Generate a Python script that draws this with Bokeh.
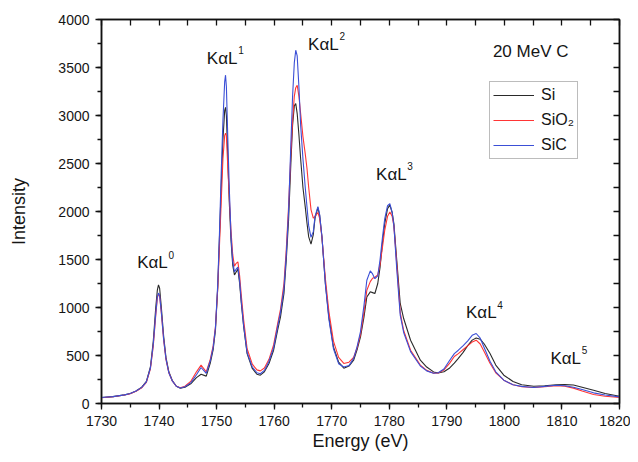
from bokeh.plotting import figure
from bokeh.models import Range1d, LinearAxis, SingleIntervalTicker, FixedTicker, Legend, LegendItem
from bokeh.core.properties import value
from bokeh.embed import file_html
from bokeh.resources import INLINE

energy = [1730, 1732, 1734, 1735, 1736, 1737, 1737.8, 1738.5, 1739.0, 1739.4, 1739.7, 1739.9, 1740.1,
          1740.4, 1740.8, 1741.2, 1741.7, 1742.3, 1743.0, 1743.7, 1744.5, 1745.5, 1746.5, 1747.3, 1748.2,
          1748.9, 1749.4, 1749.8, 1750.2, 1750.5, 1750.8, 1751.1, 1751.4, 1751.55, 1751.7, 1751.95, 1752.2,
          1752.5, 1752.8, 1753.1, 1753.4, 1753.7, 1754.0, 1754.3, 1754.7, 1755.3, 1756.2, 1757.0, 1757.6,
          1758.3, 1759.1, 1759.9, 1760.6, 1761.1, 1761.7, 1762.1, 1762.5, 1762.9, 1763.2, 1763.5, 1763.75,
          1764.0, 1764.3, 1764.6, 1765.0, 1765.4, 1765.7, 1766.0, 1766.4, 1766.8, 1767.1, 1767.6, 1767.9,
          1768.3, 1768.9, 1769.5, 1770.3, 1771.2, 1772.1, 1773.0, 1773.8, 1774.4, 1775.0, 1775.6, 1776.1,
          1776.7, 1777.1, 1777.5, 1778.0, 1778.4, 1778.8, 1779.2, 1779.7, 1780.1, 1780.5, 1780.8, 1781.3,
          1781.9, 1782.5, 1783.7, 1785.4, 1786.5, 1787.7, 1788.5, 1789.5, 1790.5, 1791.3, 1792.0, 1792.8,
          1793.6, 1794.4, 1795.1, 1795.8, 1796.5, 1797.5, 1798.5, 1799.9, 1801.5, 1803.0, 1805.1, 1807.0,
          1809.0, 1810.5, 1812.0, 1813.5, 1815.5, 1817.5, 1820]

si = [62, 72, 90, 104, 130, 170, 230, 380, 650, 980, 1180, 1235, 1200,
      1000, 700, 480, 330, 240, 180, 160, 170, 205, 270, 305, 285,
      420, 560, 763, 1215, 1735, 2250, 2750, 3050, 3085, 3000, 2550, 2100,
      1700, 1440, 1340, 1370, 1400, 1250, 1040, 800, 520, 365, 305, 295,
      330, 417, 555, 763, 902, 1146, 1493, 1910, 2500, 2900, 3100, 3125,
      3020, 2800, 2550, 2250, 2048, 1880, 1735, 1660, 1760, 1930, 2040, 1960,
      1735, 1250, 902, 590, 430, 368, 390, 451, 560, 694, 900, 1110,
      1163, 1155, 1146, 1250, 1420, 1667, 1870, 2030, 2066, 1990, 1875, 1493,
      1042, 885, 659, 451, 380, 329, 318, 330, 370, 420, 470, 530,
      600, 660, 683, 670, 620, 520, 400, 295, 230, 195, 180, 185,
      195, 197, 192, 170, 138, 105, 76]

sio2 = [60, 70, 88, 102, 128, 165, 220, 360, 600, 900, 1100, 1140, 1120,
        940, 660, 460, 320, 235, 180, 165, 180, 230, 330, 400, 330,
        460, 600, 800, 1200, 1650, 2100, 2550, 2790, 2815, 2790, 2450, 2150,
        1800, 1550, 1430, 1460, 1475, 1330, 1120, 870, 570, 410, 350, 340,
        370, 460, 610, 830, 980, 1250, 1600, 2050, 2600, 2950, 3200, 3290,
        3315, 3200, 3020, 2780, 2600, 2450, 2250, 2020, 1930, 1950, 1990, 1930,
        1730, 1300, 960, 650, 480, 417, 430, 480, 580, 720, 950, 1180,
        1270, 1305, 1315, 1340, 1450, 1620, 1800, 1950, 1996, 1950, 1850, 1450,
        950, 760, 555, 400, 345, 315, 318, 350, 420, 490, 520, 560,
        600, 640, 660, 620, 540, 420, 320, 243, 195, 175, 166, 175,
        185, 180, 160, 130, 94, 75, 62]

sic = [62, 72, 90, 104, 130, 168, 225, 370, 620, 920, 1110, 1150, 1125,
       950, 670, 465, 320, 235, 180, 162, 175, 215, 300, 375, 315,
       445, 585, 790, 1250, 1780, 2400, 2950, 3350, 3420, 3300, 2750, 2250,
       1750, 1480, 1370, 1400, 1420, 1280, 1060, 810, 530, 380, 320, 310,
       345, 440, 580, 800, 950, 1200, 1550, 2000, 2700, 3200, 3550, 3680,
       3620, 3300, 2900, 2550, 2250, 2050, 1850, 1730, 1790, 1950, 2050, 1970,
       1740, 1240, 880, 570, 415, 381, 395, 470, 590, 750, 1020, 1284,
       1381, 1350, 1300, 1330, 1500, 1720, 1920, 2060, 2083, 1990, 1850, 1400,
       920, 740, 540, 390, 340, 315, 320, 360, 450, 520, 555, 600,
       650, 710, 729, 680, 580, 440, 330, 243, 195, 178, 166, 178,
       190, 185, 170, 145, 111, 88, 69]

series_names = ["Si", "SiO\u2082", "SiC"]
series_colors = ["#2a2a2a", "#ff3535", "#3b4fd6"]

peak_labels = ["K\u03b1L", "K\u03b1L", "K\u03b1L", "K\u03b1L", "K\u03b1L", "K\u03b1L"]
peak_sups = ["0", "1", "2", "3", "4", "5"]
peak_x = [1738.86, 1750.96, 1768.55, 1780.36, 1795.99, 1810.66]
peak_y = [1467, 3597, 3743, 2389, 946, 472]

title_text = ["20 MeV C"]
title_x = [1804.57]
title_y = [3670]

x_minor = list(range(1730, 1821, 5))
y_minor = list(range(0, 4001, 250))

FONT = "Liberation Sans"
TXT = "#151515"

p = figure(width=630, height=455, output_backend="svg", toolbar_location=None,
           x_range=Range1d(1730, 1820), y_range=Range1d(0, 4000),
           min_border_left=101, min_border_right=11, min_border_top=19, min_border_bottom=52)
p.background_fill_color = "white"
p.border_fill_color = "white"
p.outline_line_color = "#111111"
p.outline_line_width = 1.5
p.xgrid.visible = False
p.ygrid.visible = False

xa = p.xaxis[0]
xa.ticker = SingleIntervalTicker(interval=10, num_minor_ticks=2)
xa.axis_label = "Energy (eV)"
ya = p.yaxis[0]
ya.ticker = SingleIntervalTicker(interval=500, num_minor_ticks=2)
ya.axis_label = "Intensity"
for ax in (xa, ya):
    ax.axis_line_color = "#111111"
    ax.axis_line_width = 1.5
    ax.major_tick_line_color = "#111111"
    ax.minor_tick_line_color = "#111111"
    ax.major_tick_line_width = 1.3
    ax.minor_tick_line_width = 1.3
    ax.major_tick_in = 0
    ax.major_tick_out = 6
    ax.minor_tick_in = 0
    ax.minor_tick_out = 4
    ax.major_label_text_font = FONT
    ax.major_label_text_font_size = "14px"
    ax.major_label_text_color = TXT
    ax.axis_label_text_font = FONT
    ax.axis_label_text_font_size = "18px"
    ax.axis_label_text_font_style = "normal"
    ax.axis_label_text_color = TXT
    ax.major_label_standoff = 6
xa.axis_label_standoff = 2
ya.axis_label_standoff = 26

# mirror axes: ticks only, no labels
top = LinearAxis(ticker=FixedTicker(ticks=[], minor_ticks=x_minor))
right = LinearAxis(ticker=FixedTicker(ticks=[], minor_ticks=y_minor))
for ax in (top, right):
    ax.axis_line_color = "#111111"
    ax.axis_line_width = 1.5
    ax.minor_tick_line_color = "#111111"
    ax.minor_tick_line_width = 1.3
    ax.minor_tick_in = 6
    ax.minor_tick_out = 0
    ax.major_tick_in = 0
    ax.major_tick_out = 0
    ax.major_label_standoff = 0
p.add_layout(top, "above")
p.add_layout(right, "right")

renderers = []
for ys, col in zip([si, sio2, sic], series_colors):
    r = p.line(energy, ys, line_color=col, line_width=1.1)
    renderers.append(r)

legend = Legend(items=[LegendItem(label=n, renderers=[r]) for n, r in zip(series_names, renderers)],
                location=(388, 244), orientation="vertical")
legend.border_line_color = "#7a7a7a"
legend.border_line_width = 1
legend.background_fill_color = "white"
legend.background_fill_alpha = 1
legend.label_text_font = FONT
legend.label_text_font_size = "16px"
legend.label_text_color = TXT
legend.glyph_width = 41
legend.glyph_height = 20
legend.label_height = 20
legend.label_standoff = 7
legend.spacing = 5
legend.padding = 3
legend.margin = 0
p.add_layout(legend, "center")

p.text(x=peak_x, y=peak_y, text=peak_labels, text_font=value(FONT), text_font_size=value("17px"),
       text_align="center", text_baseline="middle", text_color=TXT)
p.text(x=peak_x, y=peak_y, text=peak_sups, text_font=value(FONT), text_font_size=value("10px"),
       text_align="left", text_baseline="middle", text_color=TXT, x_offset=16, y_offset=-8)
p.text(x=title_x, y=title_y, text=title_text, text_font=value(FONT), text_font_size=value("17px"),
       text_align="center", text_baseline="middle", text_color=TXT)

open("out.html", "w").write(file_html(p, INLINE))
